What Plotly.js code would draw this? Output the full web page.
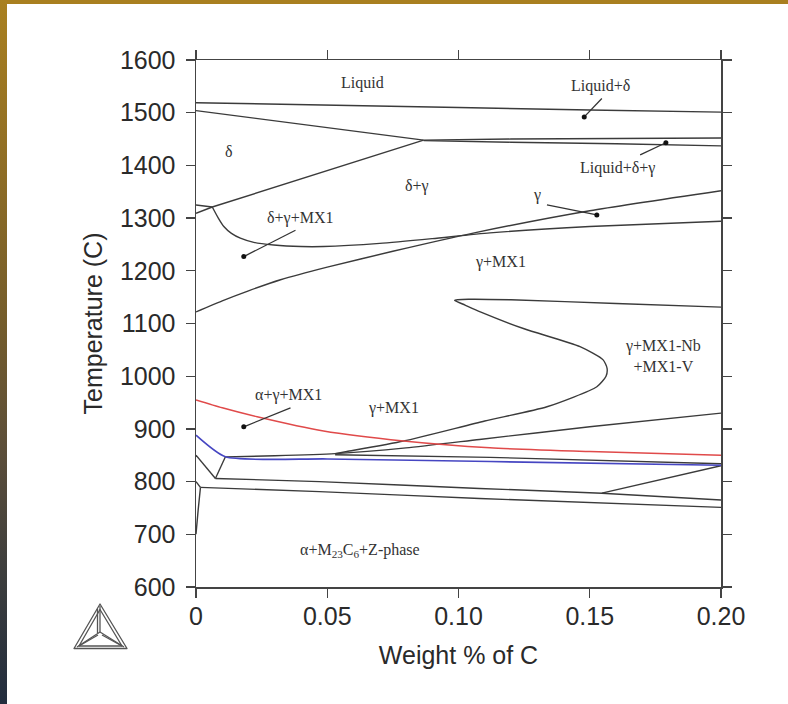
<!DOCTYPE html>
<html>
<head>
<meta charset="utf-8">
<script src="https://cdn.plot.ly/plotly-3.0.1.min.js"></script>
<style>
  html, body { margin: 0; padding: 0; background: #ffffff; }
  #wrap { position: relative; width: 788px; height: 704px; overflow: hidden; }
  #plot { position: absolute; left: 0; top: 0; width: 788px; height: 704px; }
  #topbar { position: absolute; left: 0; top: 0; width: 788px; height: 4px; background: #a97f1f; }
  #leftbar { position: absolute; left: 0; top: 0; width: 7px; height: 704px;
    background: linear-gradient(to bottom, #a98020 0%, #8d6c25 25%, #755d2b 45%, #5a4d3a 65%, #3f3f3d 80%, #222d3e 100%); }
  #logo { position: absolute; left: 70px; top: 600px; }
</style>
</head>
<body>
<div id="wrap">
  <div id="plot"></div>
  <div id="topbar"></div>
  <div id="leftbar"></div>
  <svg id="logo" width="62" height="54" viewBox="0 0 62 54">
    <g fill="none" stroke="#555" stroke-width="1.3" stroke-linejoin="round">
      <polygon points="30,4 4,48.5 57,48.5"/>
      <polygon points="30,9.5 9,46 52,46"/>
      <line x1="30" y1="6" x2="30" y2="32"/>
      <line x1="27.5" y1="9" x2="27.5" y2="33"/>
      <line x1="30" y1="32" x2="7" y2="47"/>
      <line x1="30" y1="32" x2="54" y2="47"/>
      <line x1="28" y1="35" x2="9" y2="46"/>
      <line x1="32" y1="35" x2="52" y2="46"/>
    </g>
  </svg>
</div>
<script>
// ---- phase boundary data (wt% C, temperature C) ----
const liquidusX = [0, 0.05, 0.1, 0.15, 0.2];
const liquidusT = [1519, 1515, 1510, 1505, 1501];

const deltaSolidusX = [0, 0.0867];
const deltaSolidusT = [1504, 1448];

const threePhaseUpperX = [0.0867, 0.12, 0.16, 0.2];
const threePhaseUpperT = [1448, 1450, 1451, 1452];
const threePhaseLowerX = [0.0867, 0.12, 0.16, 0.2];
const threePhaseLowerT = [1447, 1444, 1441, 1437];

const deltaGammaX = [0, 0.0062, 0.0867];
const deltaGammaT = [1309, 1321, 1448];

const shortSegX = [0, 0.0062];
const shortSegT = [1325, 1321];

const mx1CurveX = [0.0062, 0.0085, 0.0106, 0.0135, 0.0169, 0.022, 0.0296, 0.04, 0.0486, 0.07, 0.09, 0.112, 0.15, 0.2];
const mx1CurveT = [1321, 1300, 1284, 1271, 1262, 1254, 1249, 1246, 1246, 1252, 1261, 1272, 1284, 1294];

const gammaSolvusX = [0, 0.01, 0.02, 0.0322, 0.05, 0.075, 0.106, 0.15, 0.2];
const gammaSolvusT = [1122, 1143, 1162, 1183, 1207, 1237, 1272, 1314, 1352];

const noseX = [0.2, 0.16, 0.12, 0.104, 0.0985, 0.1025, 0.1083, 0.125, 0.1463, 0.1551, 0.1566, 0.1562, 0.1527, 0.1337, 0.11, 0.0791, 0.0575, 0.053];
const noseT = [1131, 1138, 1145, 1146, 1144, 1135, 1122, 1090, 1056, 1031, 1015, 1000, 980, 942, 915, 877, 857, 853];

const redX = [0, 0.01, 0.0233, 0.0486, 0.0791, 0.112, 0.15, 0.2];
const redT = [955, 940, 923, 896, 877, 864, 857, 850];

const blueX = [0, 0.0112, 0.05, 0.112, 0.2];
const blueT = [888, 847, 843, 838, 831];

const lineCX = [0.0112, 0.03, 0.053, 0.08, 0.108, 0.15, 0.2];
const lineCT = [847, 849, 853, 864, 880, 904, 930];

const lineGX = [0.053, 0.112, 0.2];
const lineGT = [851, 846, 834];

const vLeftX = [0, 0.0074];
const vLeftT = [850, 806];
const vRightX = [0.0112, 0.0074];
const vRightT = [847, 806];

const lineDX = [0.0074, 0.047, 0.108, 0.1546, 0.2];
const lineDT = [806, 800, 787, 778, 765];

const lineEX = [0.0017, 0.047, 0.108, 0.2];
const lineET = [789, 781, 768, 751];

const stubX = [0, 0.0017];
const stubT = [800, 789];

const alphaEdgeX = [0.0017, 0.0008, 0];
const alphaEdgeT = [789, 745, 700];

const lineFX = [0.1546, 0.2];
const lineFT = [778, 830];

// ---- region labels ----
const labelTexts = ['Liquid', 'Liquid+δ', 'δ', 'δ+γ', 'Liquid+δ+γ', 'γ', 'δ+γ+MX1', 'γ+MX1',
  'γ+MX1-Nb<br>+MX1-V', 'α+γ+MX1', 'γ+MX1', 'α+M<sub>23</sub>C<sub>6</sub>+Z-phase'];
const labelX = [0.0633, 0.154, 0.0125, 0.0842, 0.1604, 0.1299, 0.0398, 0.1159, 0.178, 0.0353, 0.0753, 0.0626];
const labelT = [1556, 1551, 1426, 1361, 1396, 1344, 1300, 1217, 1038, 964, 939, 670];

// ---- pointer leaders: [label end, dot] ----
const pointerX = [[0.1546, 0.1479], [0.1692, 0.1790], [0.1337, 0.1527], [0.0379, 0.0182], [0.036, 0.0182]];
const pointerT = [[1527, 1492], [1420, 1443], [1325, 1306], [1277, 1227], [940, 904]];

// ---- ticks ----
const xTickVals = [0, 0.05, 0.1, 0.15, 0.2];
const xTickText = ['0', '0.05', '0.10', '0.15', '0.20'];
const yTickVals = [600, 700, 800, 900, 1000, 1100, 1200, 1300, 1400, 1500, 1600];

const black = '#3b3b3b';
const lw = 1.4;
function line(x, y, color, width) {
  return { x: x, y: y, type: 'scatter', mode: 'lines', hoverinfo: 'skip',
    line: { color: color || black, width: width || lw, shape: 'spline', smoothing: 0.6 }, showlegend: false };
}
function straight(x, y, color, width) {
  return { x: x, y: y, type: 'scatter', mode: 'lines', hoverinfo: 'skip',
    line: { color: color || black, width: width || lw }, showlegend: false };
}

const traces = [
  straight(liquidusX, liquidusT),
  straight(deltaSolidusX, deltaSolidusT),
  line(threePhaseUpperX, threePhaseUpperT),
  line(threePhaseLowerX, threePhaseLowerT),
  straight(deltaGammaX, deltaGammaT),
  straight(shortSegX, shortSegT),
  line(mx1CurveX, mx1CurveT),
  line(gammaSolvusX, gammaSolvusT),
  line(noseX, noseT),
  line(lineCX, lineCT),
  line(lineGX, lineGT),
  straight(vLeftX, vLeftT),
  straight(vRightX, vRightT),
  line(lineDX, lineDT),
  line(lineEX, lineET),
  straight(stubX, stubT),
  line(alphaEdgeX, alphaEdgeT),
  straight(lineFX, lineFT),
  line(redX, redT, '#e04a4a', 1.5),
  line(blueX, blueT, '#4646c2', 1.6)
];

for (let i = 0; i < pointerX.length; i++) {
  traces.push({ x: pointerX[i], y: pointerT[i], type: 'scatter', mode: 'lines', hoverinfo: 'skip',
    line: { color: '#333', width: 1.3 }, showlegend: false });
  traces.push({ x: [pointerX[i][1]], y: [pointerT[i][1]], type: 'scatter', mode: 'markers', hoverinfo: 'skip',
    marker: { color: '#111', size: 5 }, showlegend: false });
}

const annotations = labelTexts.map((t, i) => ({
  x: labelX[i], y: labelT[i], xref: 'x', yref: 'y', text: t, showarrow: false,
  font: { family: 'Liberation Serif, Times New Roman, serif', size: 16, color: '#333333' },
  align: 'center'
}));

const axisCommon = {
  showline: true, linecolor: '#444', linewidth: 1.5, mirror: 'allticks',
  ticks: 'outside', ticklen: 9, tickwidth: 1.3, tickcolor: '#444',
  showgrid: false, zeroline: false,
  tickfont: { family: 'Liberation Sans, Arial, sans-serif', size: 25, color: '#2a2a2a' }
};

const layout = {
  width: 788, height: 704,
  margin: { l: 196, r: 67, t: 60, b: 117 },
  paper_bgcolor: '#ffffff', plot_bgcolor: '#ffffff',
  showlegend: false,
  xaxis: Object.assign({}, axisCommon, {
    range: [0, 0.2], tickvals: xTickVals, ticktext: xTickText, ticklabelstandoff: -3,
    title: { text: 'Weight % of C', standoff: 18,
      font: { family: 'Liberation Sans, Arial, sans-serif', size: 25, color: '#2a2a2a' } }
  }),
  yaxis: Object.assign({}, axisCommon, {
    range: [600, 1600], tickvals: yTickVals, ticklabelstandoff: 5,
    title: { text: 'Temperature (C)', standoff: 10,
      font: { family: 'Liberation Sans, Arial, sans-serif', size: 25, color: '#2a2a2a' } }
  }),
  annotations: annotations
};

Plotly.newPlot('plot', traces, layout, { displayModeBar: false, staticPlot: true });
</script>
</body>
</html>
